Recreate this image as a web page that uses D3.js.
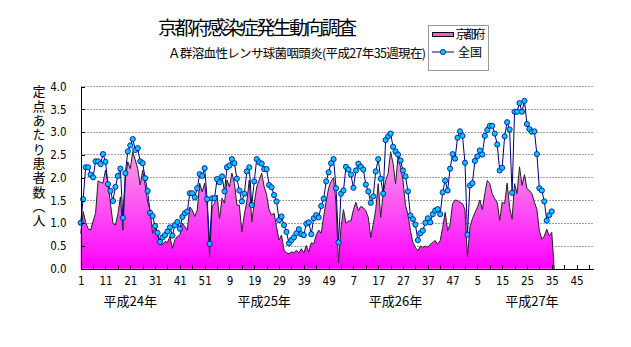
<!DOCTYPE html>
<html><head><meta charset="utf-8">
<script src="https://cdn.jsdelivr.net/npm/d3@7"></script>
<style>
html,body{margin:0;padding:0;background:#fff;}
svg{display:block;}
.jp{font-family:"Noto Sans CJK JP","Noto Sans CJK SC",sans-serif;}
.num{font-family:"Liberation Sans Narrow","DejaVu Sans Condensed","Liberation Sans",sans-serif;}
</style></head>
<body><svg id="c" width="631" height="347"></svg>
<script>
const title = "京都府感染症発生動向調査";
const subtitle = "Ａ群溶血性レンサ球菌咽頭炎(平成27年35週現在)";
const yTitle = "定点あたり患者数（人";
const seriesNames = ["京都府","全国"];
const yearLabels = ["平成24年","平成25年","平成26年","平成27年"];
const yearLabelWeek = [20, 74, 127, 182];
const xTickLabels = ["1","11","21","31","41","51","9","19","29","39","49","7","17","27","37","47","5","15","25","35","45"];
const yTicks = [0,0.5,1,1.5,2,2.5,3,3.5,4];
const weekCount = 208;

// 京都府 (index 0 = H24 week1)
const kyoto = [0.78,1.26,1.02,0.88,0.85,1.05,1.22,1.93,1.90,1.88,
2.17,1.88,1.44,1.00,0.96,1.20,1.58,0.85,1.95,2.35,
2.20,2.57,2.39,2.20,1.84,2.17,1.84,1.47,1.29,0.78,
0.93,0.72,0.55,0.53,0.60,0.58,0.71,0.45,0.64,0.71,
0.74,1.00,0.93,0.85,1.36,1.29,1.15,1.29,1.88,1.69,
1.88,1.40,0.27,1.36,1.44,1.62,1.10,1.55,1.44,1.95,
1.80,2.10,1.88,1.40,1.40,0.81,1.20,1.47,1.95,1.03,
1.44,1.80,1.95,2.10,1.80,1.62,1.29,1.18,1.22,0.92,
0.63,0.74,0.41,0.35,0.33,0.37,0.35,0.41,0.35,0.44,
0.35,0.51,0.37,0.57,0.55,0.74,0.85,0.78,1.15,1.48,
1.77,1.92,2.00,1.42,0.13,0.91,1.30,1.00,1.05,1.05,
1.30,1.46,1.28,1.37,1.34,1.28,1.13,0.69,0.98,1.30,
1.87,1.13,1.65,1.94,2.09,2.57,2.31,1.87,2.46,2.24,
1.94,1.39,1.20,0.84,0.58,0.47,0.39,0.50,0.47,0.50,
0.47,0.54,0.58,0.62,0.54,0.62,0.91,1.24,0.84,0.98,
1.43,1.51,1.50,1.46,1.43,1.30,0.26,0.92,1.10,1.23,
1.35,1.51,1.30,1.65,1.94,1.87,1.65,1.54,1.46,1.06,
1.46,1.43,1.88,1.35,1.09,1.87,1.65,2.24,1.83,2.07,
1.76,1.72,1.65,1.46,1.31,0.84,0.65,0.72,0.87,0.72,
0.80,0];

// 全国
const national = [1.01,1.53,2.23,2.23,2.07,2.01,2.36,2.36,2.30,2.52,
2.35,1.86,1.71,1.49,1.80,2.04,2.20,1.12,2.10,2.58,
2.71,2.85,2.61,2.65,2.36,2.32,1.99,1.71,1.23,1.16,
0.94,0.79,0.59,0.69,0.74,0.82,0.91,0.73,0.96,1.03,
0.88,1.14,1.22,1.26,1.66,1.66,1.57,1.77,2.08,2.04,
2.21,1.53,0.55,1.55,1.55,1.97,1.90,2.03,1.70,2.23,
2.27,2.41,2.32,1.98,1.72,1.48,1.65,2.14,2.23,1.40,
1.92,2.41,2.34,2.31,2.19,2.19,1.84,1.79,1.62,1.48,
1.07,1.15,0.96,0.81,0.56,0.63,0.69,0.78,0.87,0.76,
0.74,0.99,1.02,0.76,1.11,1.18,1.13,1.38,1.54,1.92,
2.12,2.32,2.41,1.77,0.58,1.65,1.72,2.24,2.18,2.07,
1.78,2.16,2.31,2.24,2.18,1.85,1.70,1.45,1.59,2.14,
2.41,1.98,1.65,2.83,2.91,2.97,2.68,2.58,2.51,2.38,
2.16,2.03,1.70,1.17,1.09,0.97,0.63,0.78,0.84,1.01,
1.11,1.02,1.20,1.28,1.31,1.20,1.68,1.94,1.72,2.20,
2.52,2.42,2.88,3.02,2.92,2.33,0.75,1.83,1.88,2.37,
2.47,2.60,2.51,2.92,3.05,3.14,3.14,2.97,2.73,2.16,
2.22,2.91,3.22,3.06,1.67,3.45,3.45,3.64,3.45,3.69,
3.18,3.07,3.01,3.02,2.52,1.77,1.72,1.48,1.06,1.18,
1.26];

const svg = d3.select("#c");
const x = d3.scaleLinear().domain([0, weekCount-1]).range([80.7, 593.9]);
const y = d3.scaleLinear().domain([0, 4]).range([268.8, 86.7]);

const defs = svg.append("defs");
const grad = defs.append("linearGradient").attr("id","pinkGrad")
  .attr("gradientUnits","userSpaceOnUse").attr("x1",0).attr("x2",0)
  .attr("y1", y(3)).attr("y2", y(0));
grad.append("stop").attr("offset","0%").attr("stop-color","#f8b8e2");
grad.append("stop").attr("offset","100%").attr("stop-color","#ff00ff");

// grid
svg.append("g").selectAll("line").data(yTicks.filter(d=>d>0)).join("line")
  .attr("x1", x(0)).attr("x2", x(weekCount-1))
  .attr("y1", d=>y(d)).attr("y2", d=>y(d))
  .attr("stroke","#a0a0a0").attr("stroke-width",1).attr("stroke-dasharray","2,1")
  .attr("shape-rendering","crispEdges");

// area
const area = d3.area().x((d,i)=>x(i)).y0(y(0)).y1(d=>y(d));
svg.append("path").datum(kyoto).attr("d", area).attr("fill","url(#pinkGrad)");
svg.append("path").datum(kyoto).attr("d", d3.line().x((d,i)=>x(i)).y(d=>y(d)))
  .attr("fill","none").attr("stroke","#202020").attr("stroke-width",1);

// national
svg.append("path").datum(national).attr("d", d3.line().x((d,i)=>x(i)).y(d=>y(d)))
  .attr("fill","none").attr("stroke","#000080").attr("stroke-width",1);
svg.append("g").selectAll("circle").data(national).join("circle")
  .attr("cx",(d,i)=>x(i)).attr("cy",d=>y(d)).attr("r",2.6)
  .attr("fill","#00c8ff").attr("stroke","#000090").attr("stroke-width",0.8);

// axes
const minor = d3.range(0, weekCount, 5);
const gx = svg.append("g").attr("transform",`translate(0,${y(0)})`)
  .call(d3.axisBottom(x).tickValues(minor).tickSize(-4).tickSizeOuter(0).tickFormat(""));
gx.selectAll("path,line").attr("stroke","#000").attr("shape-rendering","crispEdges");
const labelIdx = xTickLabels.map((d,i)=>i*10);
const gxl = svg.append("g").attr("transform",`translate(0,${y(0)})`)
  .call(d3.axisBottom(x).tickValues(labelIdx).tickSize(0).tickPadding(8).tickFormat((d,i)=>xTickLabels[i]));
gxl.select(".domain").remove();
gxl.selectAll("text").attr("class","num").attr("font-size",11.5).attr("fill","#000");

const gy = svg.append("g").attr("transform",`translate(${x(0)},0)`)
  .call(d3.axisLeft(y).tickValues(yTicks).tickSize(-4).tickSizeOuter(0).tickPadding(14).tickFormat(d3.format(".1f")));
gy.selectAll("path,line").attr("stroke","#000").attr("shape-rendering","crispEdges");
gy.selectAll("text").attr("class","num").attr("font-size",11.5).attr("fill","#000");

// year labels
svg.append("g").selectAll("text").data(yearLabels).join("text")
  .attr("class","jp").attr("x",(d,i)=>x(yearLabelWeek[i])).attr("y",306)
  .attr("text-anchor","middle").attr("font-size",13).text(d=>d);

// title
svg.append("text").attr("class","jp").attr("x",257.5).attr("y",35)
  .attr("text-anchor","middle").attr("font-size",19).attr("textLength",199).text(title);
svg.append("text").attr("class","jp").attr("x",168).attr("y",58)
  .attr("font-size",12.5).attr("textLength",258).text(subtitle);

// y title (vertical)
svg.append("text").attr("class","jp").attr("x",39).attr("y",85)
  .style("writing-mode","vertical-rl").attr("font-size",13)
  .attr("letter-spacing",1.3).text(yTitle);

// legend
const lg = svg.append("g");
lg.append("rect").attr("x",428.5).attr("y",25.5).attr("width",60).attr("height",45)
  .attr("fill","#fff").attr("stroke","#999");
lg.append("rect").attr("x",432.5).attr("y",32.5).attr("width",21).attr("height",4)
  .attr("fill","#ff55dd").attr("stroke","#000");
lg.append("text").attr("class","jp").attr("x",455.5).attr("y",38.5).attr("font-size",12)
  .attr("textLength",30).text(seriesNames[0]);
lg.append("line").attr("x1",432).attr("x2",454).attr("y1",52).attr("y2",52)
  .attr("stroke","#000080");
lg.append("circle").attr("cx",443).attr("cy",52).attr("r",2.6)
  .attr("fill","#00c8ff").attr("stroke","#000090").attr("stroke-width",0.8);
lg.append("text").attr("class","jp").attr("x",458).attr("y",56.5).attr("font-size",12)
  .text(seriesNames[1]);
</script></body></html>
